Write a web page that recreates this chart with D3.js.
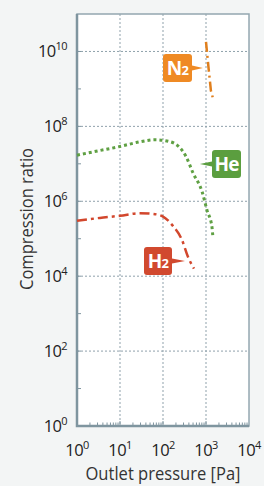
<!DOCTYPE html>
<html lang="en">
<head>
<meta charset="UTF-8">
<title>Compression ratio</title>
<style>
  html, body { margin: 0; padding: 0; background: #f3f5f5; }
  svg { display: block; font-family: "Open Sans", "Noto Sans", sans-serif; }
</style>
</head>
<body>
<svg id="chart" width="264" height="486"></svg>
<script src="https://d3js.org/d3.v7.min.js"></script>
<script>
  // values: [outlet pressure Pa, compression ratio]
  const n2Data = [[1000, 1.8e10], [1150, 3.5e9], [1300, 9e8], [1430, 6e8]];
  const heData = [[1, 1.7e7], [3, 2.2e7], [10, 2.9e7], [30, 3.9e7], [65, 4.4e7], [145, 3.9e7],
                  [340, 1.6e7], [500, 5.7e6], [810, 1.8e6], [1050, 5.9e5], [1380, 2e5], [1450, 1.05e5]];
  const h2Data = [[1, 3.0e5], [3.4, 3.6e5], [10, 4.1e5], [29, 4.8e5], [59, 4.6e5], [100, 3.9e5],
                  [170, 2.2e5], [275, 9.4e4], [380, 3.3e4], [525, 1.6e4]];
  const xTickExps = [0, 1, 2, 3, 4];
  const yTickExps = [0, 2, 4, 6, 8, 10];

  const svg = d3.select("#chart");
  const pLeft = 77, pRight = 249, pTop = 14, pBottom = 426;

  const x = d3.scaleLog().domain([1, 1e4]).range([pLeft, pRight]);
  const y = d3.scaleLog().domain([1, 1e11]).range([pBottom, pTop]);

  svg.append("rect").attr("x", pLeft).attr("y", pTop)
    .attr("width", pRight - pLeft).attr("height", pBottom - pTop).attr("fill", "#fff");

  // dashed grid
  const grid = svg.append("g").attr("stroke", "#8fa1ab").attr("stroke-width", 1).attr("stroke-dasharray", "2,2");
  [1, 2, 3].forEach(e => {
    grid.append("line").attr("x1", x(10 ** e)).attr("x2", x(10 ** e)).attr("y1", pTop).attr("y2", pBottom);
  });
  [2, 4, 6, 8, 10].forEach(e => {
    grid.append("line").attr("x1", pLeft).attr("x2", pRight).attr("y1", y(10 ** e)).attr("y2", y(10 ** e));
  });

  // minor ticks inside the frame
  const isMajor = v => Math.abs(Math.log10(v) - Math.round(Math.log10(v))) < 1e-9;
  const ticks = svg.append("g").attr("stroke", "#7f959f").attr("stroke-width", 1);
  x.ticks().filter(v => v < 1e4).forEach(v => {
    ticks.append("line").attr("x1", x(v)).attr("x2", x(v))
      .attr("y1", pBottom).attr("y2", pBottom - (isMajor(v) ? 5 : 3.5));
  });
  y.ticks().filter(v => v < 1e11).forEach(v => {
    ticks.append("line").attr("y1", y(v)).attr("y2", y(v))
      .attr("x1", pLeft).attr("x2", pLeft + (isMajor(v) ? 4 : 2.5));
  });

  // frame
  svg.append("rect").attr("x", pLeft).attr("y", pTop)
    .attr("width", pRight - pLeft).attr("height", pBottom - pTop)
    .attr("fill", "none").attr("stroke", "#94a7b0").attr("stroke-width", 1.5);
  svg.append("path").attr("d", `M${pLeft},${pTop}V${pBottom}H${pRight}`)
    .attr("fill", "none").attr("stroke", "#7f959f").attr("stroke-width", 2.5);

  // curves
  const line = d3.line().x(d => x(d[0])).y(d => y(d[1])).curve(d3.curveMonotoneX);
  svg.append("path").datum(heData).attr("d", line)
    .attr("fill", "none").attr("stroke", "#5fa043").attr("stroke-width", 3).attr("stroke-dasharray", "3,3");
  svg.append("path").datum(h2Data).attr("d", line)
    .attr("fill", "none").attr("stroke", "#d2472d").attr("stroke-width", 2.5).attr("stroke-dasharray", "10,4,3,4");
  svg.append("path").datum(n2Data).attr("d", d3.line().x(d => x(d[0])).y(d => y(d[1])))
    .attr("fill", "none").attr("stroke", "#e07f1d").attr("stroke-width", 2.5).attr("stroke-dasharray", "10,4,2,4");

  // labels with pointers
  function tag(bx, by, w, h, color, tx, main, sub) {
    const g = svg.append("g");
    const side = tx > bx ? bx + w : bx;
    const cy = by + h / 2;
    g.append("path").attr("d", `M${side},${cy - 2.5}L${tx},${cy}L${side},${cy + 2.5}Z`).attr("fill", color);
    g.append("rect").attr("x", bx).attr("y", by).attr("width", w).attr("height", h).attr("rx", 3).attr("fill", color);
    const t = g.append("text").attr("x", bx + w / 2).attr("y", by + h / 2 + 7)
      .attr("text-anchor", "middle").attr("fill", "#fff").attr("font-weight", "bold")
      .attr("font-size", 19).attr("letter-spacing", -0.8).text(main);
    if (sub) t.append("tspan").attr("font-size", 13).text(sub);
  }
  tag(163, 54, 29, 28, "#ef8a24", x(850), "N", "2");
  tag(212, 150, 29, 28, "#5b9e3f", x(720), "He", null);
  tag(144, 247, 28, 28, "#d1492f", x(325), "H", "2");

  // tick labels
  const lab = svg.append("g").attr("fill", "#222").attr("font-size", 16.5).attr("letter-spacing", -0.6);
  yTickExps.forEach(e => {
    const t = lab.append("text").attr("x", 67).attr("y", y(10 ** e) + 5.5).attr("text-anchor", "end").text("10");
    t.append("tspan").attr("font-size", 11).attr("dy", -7).text(e);
  });
  xTickExps.forEach(e => {
    const t = lab.append("text").attr("x", x(10 ** e)).attr("y", 456).attr("text-anchor", "middle").text("10");
    t.append("tspan").attr("font-size", 11).attr("dy", -7).text(e);
  });

  svg.append("text").attr("x", 163).attr("y", 480).attr("text-anchor", "middle")
    .attr("font-size", 18).attr("fill", "#333").attr("textLength", 155).attr("lengthAdjust", "spacingAndGlyphs")
    .text("Outlet pressure [Pa]");
  svg.append("text").attr("transform", "translate(32.5,219) rotate(-90)").attr("text-anchor", "middle")
    .attr("font-size", 18.5).attr("fill", "#333").attr("textLength", 142).attr("lengthAdjust", "spacingAndGlyphs")
    .text("Compression ratio");
</script>
</body>
</html>
